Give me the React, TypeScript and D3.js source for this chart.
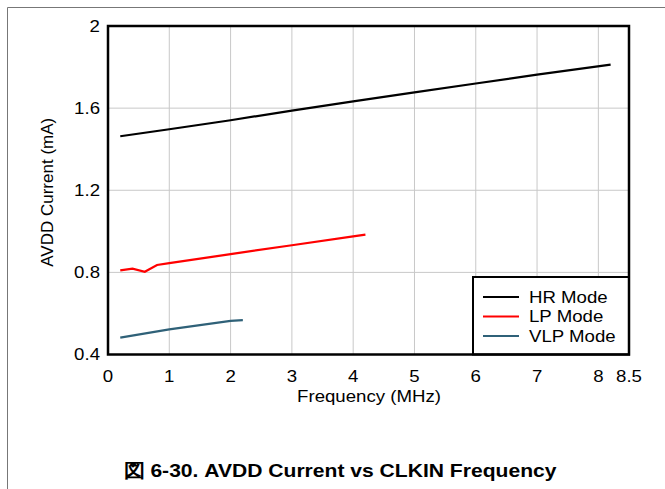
import React from "react";
import * as d3 from "d3";

const hrData: [number, number][] = [[0.2,1.463],[1,1.497],[2,1.541],[3,1.588],[4,1.633],[5,1.677],[6,1.72],[7,1.763],[8.2,1.812]];
const lpData: [number, number][] = [[0.2,0.81],[0.4,0.818],[0.6,0.803],[0.8,0.836],[1,0.845],[2,0.889],[3,0.932],[4,0.975],[4.2,0.984]];
const vlpData: [number, number][] = [[0.2,0.482],[1,0.522],[2,0.564],[2.2,0.567]];
const xTicks = [0,1,2,3,4,5,6,7,8,8.5];
const yTicks = [0.4,0.8,1.2,1.6,2];
const seriesNames = ["HR Mode","LP Mode","VLP Mode"];
const seriesColors = ["#000000","#ff0000","#2f6178"];

const SX = 1.13;

function T(props: { x: number; y: number; anchor?: string; size?: number; weight?: string; sx?: number; children: React.ReactNode }) {
  const { x, y, anchor = "start", size = 16.5, weight = "normal", sx = SX, children } = props;
  return (
    <g transform={`translate(${x},${y}) scale(${sx},1)`}>
      <text x={0} y={0} dy="0.35em" textAnchor={anchor as any} fontSize={size} fontWeight={weight}>{children}</text>
    </g>
  );
}

export default function App() {
  const W = 665, H = 489;
  const left = 108, right = 629, top = 26, bottom = 354.5;
  const x = d3.scaleLinear().domain([0, 8.5]).range([left, right]);
  const y = d3.scaleLinear().domain([0.4, 2]).range([bottom, top]);
  const line = d3.line<[number, number]>().x(d => x(d[0])).y(d => y(d[1]));
  const series = [hrData, lpData, vlpData];
  const font = "'Liberation Sans', Arial, sans-serif";
  const legX = 473, legY = 277;
  return (
    <svg width={W} height={H} style={{position:"absolute", left:0, top:0}} fontFamily={font}>
      <rect width={W} height={H} fill="#fff" />
      <line x1={7.5} y1={7.5} x2={W} y2={7.5} stroke="#777" strokeWidth={1} />
      <line x1={7.5} y1={7.5} x2={7.5} y2={H} stroke="#777" strokeWidth={1} />
      {xTicks.filter(t => t > 0 && t < 8.5).map(t => (
        <line key={"gx"+t} x1={x(t)} x2={x(t)} y1={top} y2={bottom} stroke="#c8c8c8" strokeWidth={1} />
      ))}
      {yTicks.filter(t => t > 0.4 && t < 2).map(t => (
        <line key={"gy"+t} x1={left} x2={right} y1={y(t)} y2={y(t)} stroke="#c8c8c8" strokeWidth={1} />
      ))}
      {series.map((s, i) => (
        <path key={i} d={line(s) || ""} fill="none" stroke={seriesColors[i]} strokeWidth={2.2} />
      ))}
      {yTicks.map(t => (
        <T key={"yt"+t} x={100} y={y(t)} anchor="end">{String(t)}</T>
      ))}
      {xTicks.map(t => (
        <T key={"xt"+t} x={x(t)} y={376} anchor="middle">{String(t)}</T>
      ))}
      <T x={369} y={396} anchor="middle">Frequency (MHz)</T>
      <text transform={`translate(47,${(top+bottom)/2 + 2}) rotate(-90)`} dy="0.35em" textAnchor="middle" fontSize={17}>AVDD Current (mA)</text>
      <rect x={legX} y={legY} width={right-legX} height={bottom-legY} fill="#fff" stroke="#000" strokeWidth={2} />
      {seriesNames.map((n, i) => (
        <g key={n}>
          <line x1={483} x2={519} y1={297 + i*19.5} y2={297 + i*19.5} stroke={seriesColors[i]} strokeWidth={2.2} />
          <T x={529} y={297 + i*19.5}>{n}</T>
        </g>
      ))}
      <rect x={left} y={top} width={right-left} height={bottom-top} fill="none" stroke="#000" strokeWidth={2.5} />
      <T x={340} y={470} anchor="middle" size={19} weight="bold" sx={1.11}>図 6-30. AVDD Current vs CLKIN Frequency</T>
    </svg>
  );
}
